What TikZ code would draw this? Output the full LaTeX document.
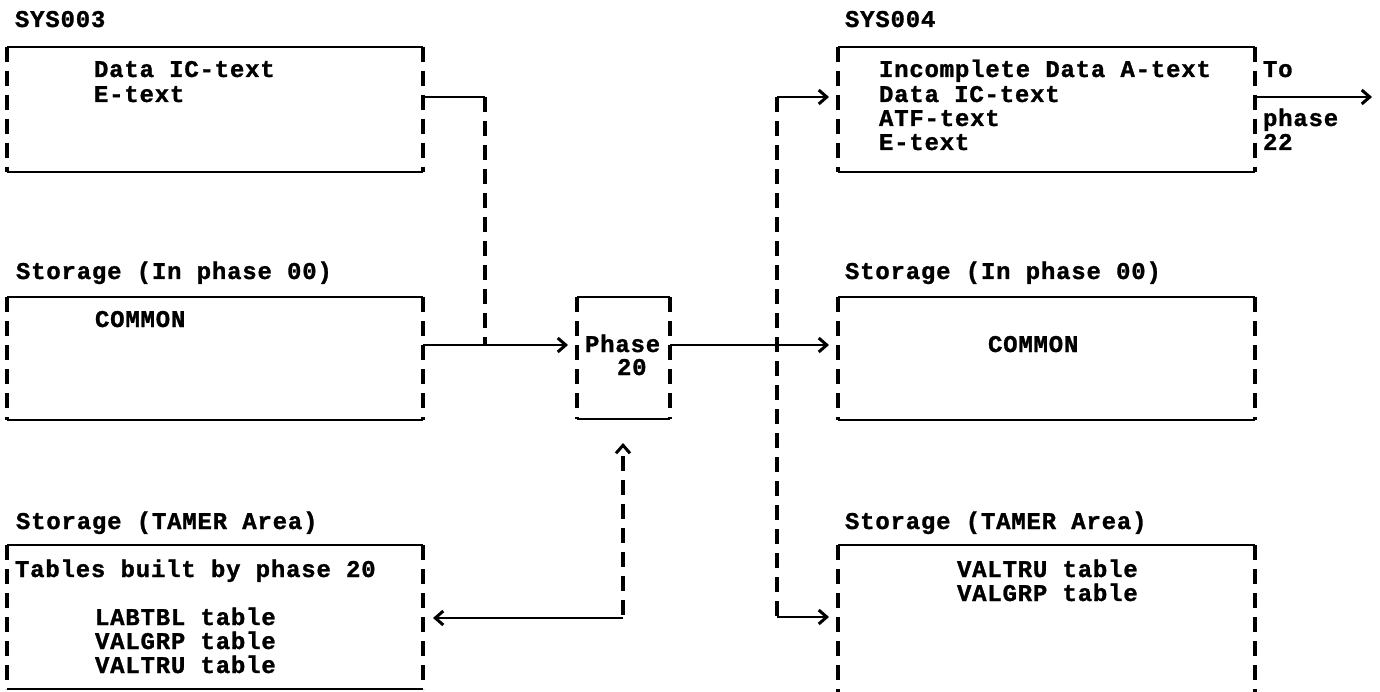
\documentclass[tikz,border=0pt]{standalone}
\usepackage{fontspec}
\newfontfamily\tw[LetterSpace=3.3,FakeBold=1.2]{Liberation Mono}
\usetikzlibrary{arrows.meta}
\tikzset{
  tx/.style={font=\tw\bfseries\fontsize{24}{24}\selectfont, anchor=base west, inner sep=0pt, outer sep=0pt},
  area/.style={draw=none, inner sep=0pt, outer sep=0pt},
  hline/.style={line width=2.8pt},
  sline/.style={line width=3.4pt, dash pattern=on 15pt off 9pt},
  hconn/.style={line width=2.6pt},
  vconn/.style={line width=3.2pt, dash pattern=on 15pt off 9pt},
  >={Straight Barb[length=8pt,width=14pt,line width=3pt]}
}
\begin{document}
\begin{tikzpicture}[x=1pt,y=-1pt]
\useasboundingbox[fill=white] (0,0) rectangle (1380,692);

% box areas
\node[area, minimum width=416pt, minimum height=125pt] (s3) at (215,109.5) {};
\node[area, minimum width=416pt, minimum height=123pt] (c1) at (215,358.5) {};
\node[area, minimum width=93pt,  minimum height=122pt] (ph) at (623.5,358) {};
\node[area, minimum width=416pt, minimum height=144pt] (t1) at (215,617) {};
\node[area, minimum width=417pt, minimum height=125pt] (s4) at (1046.5,109.5) {};
\node[area, minimum width=417pt, minimum height=123pt] (c2) at (1046.5,358.5) {};
\node[area, minimum width=417pt, minimum height=147pt] (t2) at (1046.5,618.5) {};

% borders
\foreach \n in {s3,c1,ph,t1,s4,c2}{
  \draw[hline] (\n.north west) -- (\n.north east);
  \draw[hline] (\n.south west) -- (\n.south east);
  \draw[sline] (\n.north west) -- (\n.south west);
  \draw[sline] (\n.north east) -- (\n.south east);
}
\draw[hline] (t2.north west) -- (t2.north east);
\draw[sline] (t2.north west) -- (t2.south west);
\draw[sline] (t2.north east) -- (t2.south east);

% texts
\node[tx] (l3) at (15,27) {SYS003};
\node[tx] (a1) at (94,77) {Data IC-text};
\node[tx] (a2) at (94,102) {E-text};
\node[tx] (l5) at (16,279) {Storage (In phase 00)};
\node[tx] (b1) at (95,327) {COMMON};
\node[tx] (p1) at (585,352) {Phase};
\node[tx] (p2) at (617,375) {20};
\node[tx] (l7) at (16,529) {Storage (TAMER Area)};
\node[tx] (d1) at (15,577) {Tables built by phase 20};
\node[tx] (d2) at (95,625) {LABTBL table};
\node[tx] (d3) at (95,649) {VALGRP table};
\node[tx] (d4) at (95,673) {VALTRU table};
\node[tx] (l4) at (845,27) {SYS004};
\node[tx] (e1) at (879,77) {Incomplete Data A-text};
\node[tx] (e2) at (879,102) {Data IC-text};
\node[tx] (e3) at (879,126) {ATF-text};
\node[tx] (e4) at (879,150) {E-text};
\node[tx] (o1) at (1263,77) {To};
\node[tx] (o2) at (1263,126) {phase};
\node[tx] (o3) at (1263,150) {22};
\node[tx] (l6) at (845,279) {Storage (In phase 00)};
\node[tx] (f1) at (988,352) {COMMON};
\node[tx] (l8) at (845,529) {Storage (TAMER Area)};
\node[tx] (g1) at (957,577) {VALTRU table};
\node[tx] (g2) at (957,601) {VALGRP table};

% connectors
\coordinate (k1) at (485,97);
\coordinate (j1) at (485,345);
\coordinate (r1) at (0,345);
\draw[hconn] (s3.east |- k1) -- (k1);
\draw[vconn] (k1) -- (j1);
\draw[hconn,->,shorten >=9pt] (c1.east |- r1) -- (ph.west |- r1);
\draw[hconn,->,shorten >=9pt] (ph.east |- r1) -- (c2.west |- r1);

\coordinate (k2) at (777,97);
\coordinate (k3) at (777,617);
\draw[vconn] (k2) -- (k3);
\draw[hconn,->,shorten >=9pt] (k2) -- (s4.west |- k2);
\draw[hconn,->,shorten >=9pt] (k3) -- (t2.west |- k3);

\coordinate (e0) at (1372,97);
\draw[hconn,->] (s4.east |- e0) -- (e0);

\coordinate (k4) at (623,443);
\coordinate (k5) at (623,618);
\draw[vconn,<-,dash phase=15pt] (k4) -- (k5);
\draw[hconn,->,shorten >=10pt] (k5) -- (t1.east |- k5);
\end{tikzpicture}
\end{document}
